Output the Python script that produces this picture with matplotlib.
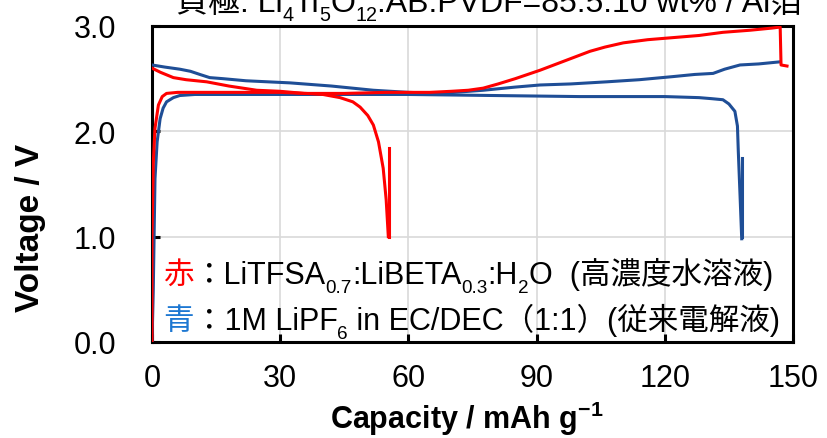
import numpy as np
import matplotlib
matplotlib.use("Agg")
import matplotlib.pyplot as plt

plt.rcParams['font.family'] = ['Liberation Sans', 'Noto Sans CJK JP', 'DejaVu Sans']
plt.rcParams['mathtext.fontset'] = 'custom'
plt.rcParams['mathtext.rm'] = 'Liberation Sans'
plt.rcParams['mathtext.bf'] = 'Liberation Sans:bold'

# red: LiTFSA0.7:LiBETA0.3:H2O
red_dis_x = [0, 0, 0.3, 0.7, 1.5, 2.4, 3.4, 6, 10, 20, 30, 36, 40, 44, 47, 48.7, 50.5, 51.8, 53, 54.1, 54.8, 55.3]
red_dis_v = [0.0, 1.0, 1.7, 2.03, 2.25, 2.33, 2.36, 2.37, 2.37, 2.37, 2.37, 2.36, 2.35, 2.32, 2.28, 2.23, 2.15, 2.06, 1.9, 1.65, 1.35, 1.0]
red_rest_x = [55.5, 55.5]
red_rest_v = [1.0, 1.84]
red_chg_x = [0, 2, 5, 8, 12.8, 18, 24.5, 30, 35.6, 45, 55, 60, 65, 70, 74, 77.5, 81, 85, 90.8, 96, 102.5, 106,
             110.3, 116, 122, 128, 133.6, 140, 145, 147, 147.2, 148.6]
red_chg_v = [2.60, 2.56, 2.51, 2.49, 2.47, 2.43, 2.39, 2.38, 2.36, 2.36, 2.37, 2.37, 2.37, 2.38, 2.39, 2.41, 2.45,
             2.50, 2.58, 2.66, 2.76, 2.80, 2.84, 2.87, 2.89, 2.91, 2.94, 2.96, 2.98, 2.99, 2.63, 2.62]

# blue: 1M LiPF6 in EC/DEC
blue_dis_x = [0, 0.3, 0.7, 1.2, 1.9, 2.6, 3.4, 5, 6.5, 10, 20, 40, 60, 80, 100, 120, 128, 131, 133.6, 135,
              136.4, 137, 137.2, 137.6, 138]
blue_dis_v = [0.0, 0.5, 1.55, 1.9, 2.12, 2.22, 2.28, 2.32, 2.34, 2.35, 2.35, 2.35, 2.35, 2.34, 2.33, 2.33, 2.32,
              2.31, 2.30, 2.26, 2.19, 2.05, 1.81, 1.4, 0.98]
blue_rest_x = [138.1, 138.1]
blue_rest_v = [1.0, 1.75]
blue_chg_x = [0, 3, 6.5, 9, 11.2, 13.5, 16.6, 22, 32.3, 42, 51.8, 60, 67.4, 77.5, 85, 90.8, 98, 106.4, 114, 122,
              127, 131.3, 134, 137.6, 142, 147]
blue_chg_v = [2.63, 2.61, 2.59, 2.57, 2.54, 2.51, 2.50, 2.48, 2.46, 2.43, 2.39, 2.37, 2.36, 2.39, 2.42, 2.44,
              2.45, 2.47, 2.49, 2.52, 2.54, 2.55, 2.59, 2.63, 2.64, 2.66]

xticks = [0, 30, 60, 90, 120, 150]
yticks = [0.0, 1.0, 2.0, 3.0]

RED = '#FF0000'
BLUE = '#1F4E96'

fig = plt.figure(figsize=(8.27, 4.39), dpi=100)
ax = fig.add_axes([152/827, 1-343/439, (793-152)/827, (343-27)/439])

ax.plot(blue_chg_x, blue_chg_v, color=BLUE, lw=2.2, zorder=3)
ax.plot(blue_dis_x, blue_dis_v, color=BLUE, lw=2.2, zorder=3)
ax.plot(blue_rest_x, blue_rest_v, color=BLUE, lw=2.2, zorder=3)
ax.plot(red_chg_x, red_chg_v, color=RED, lw=2.2, zorder=4)
ax.plot(red_dis_x, red_dis_v, color=RED, lw=2.2, zorder=4)
ax.plot(red_rest_x, red_rest_v, color=RED, lw=2.2, zorder=4)

ax.set_xlim(0, 150)
ax.set_ylim(0, 3.0)
ax.set_xticks(xticks)
ax.set_yticks(yticks)
ax.set_yticklabels(['%.1f' % v for v in yticks])
ax.grid(True, color='#D9D9D9', lw=1.2, zorder=0)
ax.set_axisbelow(True)
for s in ax.spines.values():
    s.set_linewidth(2.2)
ax.tick_params(direction='in', length=6, width=2.2, labelsize=22)
ax.tick_params(axis='y', pad=26)
ax.tick_params(axis='x', pad=15)

fig.text(30/827, 1-228/439, 'Voltage / V', rotation=90, ha='center', va='center',
         fontsize=24, fontweight='bold')
fig.text(467/827, 1-429/439, r'Capacity / mAh g$^{\mathbf{-1}}$', ha='center', va='baseline',
         fontsize=22, fontweight='bold')


def chain(x, y, parts, size, transform):
    # parts: (text, color, is_sub)
    first = None
    prev = None
    for s, c, sub in parts:
        fs = size * 0.62 if sub else size
        if first is None:
            t = ax.text(x, y, s, transform=transform, color=c, fontsize=fs, va='bottom', ha='left')
            first = t
        else:
            dy = -size * 0.2 if sub else 0
            t = ax.annotate(s, xy=(1, 0), xycoords=(prev, first), xytext=(0, dy),
                            textcoords='offset points', color=c, fontsize=fs, va='bottom', ha='left')
        prev = t


chain(163/827, 1-291/439, [('赤', RED, False), ('：LiTFSA', 'black', False), ('0.7', 'black', True),
                           (':LiBETA', 'black', False), ('0.3', 'black', True), (':H', 'black', False),
                           ('2', 'black', True), ('O  (高濃度水溶液)', 'black', False)], 22, fig.transFigure)
chain(163/827, 1-337/439, [('青', '#1E78D2', False), ('：1M LiPF', 'black', False), ('6', 'black', True),
                           (' in EC/DEC（1:1）(従来電解液)', 'black', False)], 22, fig.transFigure)
chain(176/827, 1-19/439, [('負極: Li', 'black', False), ('4', 'black', True), ('Ti', 'black', False),
                          ('5', 'black', True), ('O', 'black', False), ('12', 'black', True),
                          (':AB:PVDF=85:5:10 wt% / Al箔', 'black', False)], 23, fig.transFigure)

fig.savefig('out.png', dpi=100)
